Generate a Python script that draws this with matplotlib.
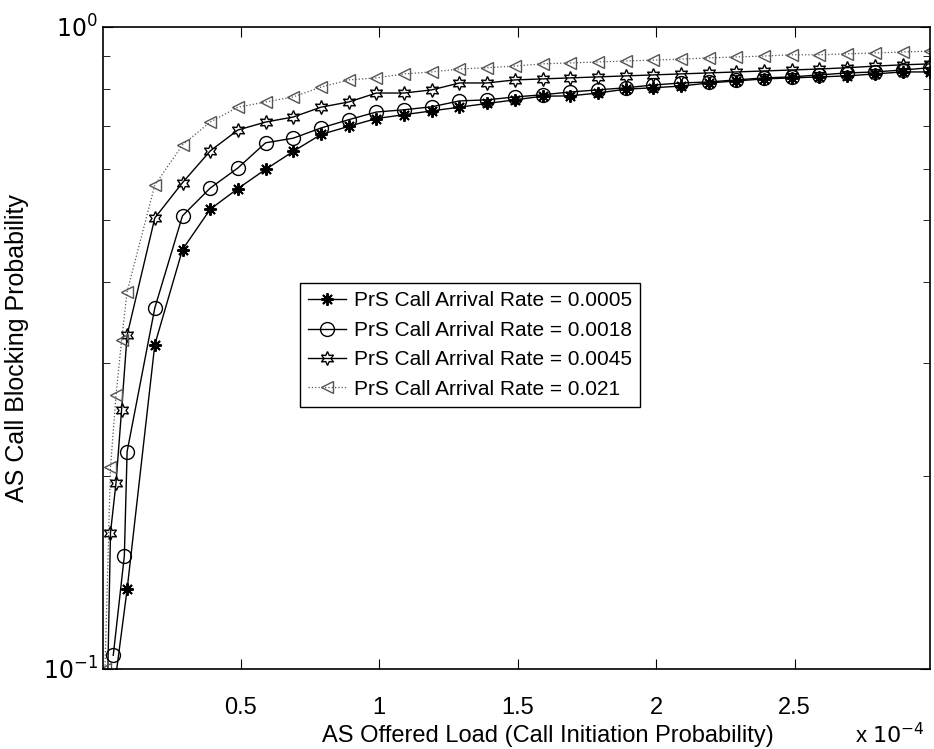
import numpy as np
import matplotlib
matplotlib.use("Agg")
import matplotlib.pyplot as plt
from matplotlib.ticker import FixedLocator, NullFormatter

plt.rcParams['font.family'] = ['Liberation Sans', 'DejaVu Sans']

# common load grid (x 1e-4)
x_main = [0.09, 0.19, 0.29, 0.39, 0.49, 0.59, 0.69, 0.79, 0.89, 0.99,
          1.09, 1.19, 1.29, 1.39, 1.49, 1.59, 1.69, 1.79, 1.89, 1.99,
          2.09, 2.19, 2.29, 2.39, 2.49, 2.59, 2.69, 2.79, 2.89, 2.99]

# low-load heads of each curve (steep part)
x_head_0005 = [0.05]
y_head_0005 = [0.098]
x_head_0018 = [0.04, 0.08]
y_head_0018 = [0.105, 0.150]
x_head_0045 = [0.02, 0.03, 0.05, 0.07]
y_head_0045 = [0.097, 0.163, 0.195, 0.253]
x_head_021 = [0.01, 0.03, 0.05, 0.07]
y_head_021 = [0.10, 0.206, 0.267, 0.325]

y_0005 = [0.133, 0.32, 0.45, 0.52, 0.56, 0.60, 0.64, 0.68, 0.70, 0.72,
          0.73, 0.74, 0.75, 0.76, 0.77, 0.78, 0.781, 0.789, 0.80, 0.804,
          0.809, 0.818, 0.824, 0.830, 0.833, 0.836, 0.839, 0.845, 0.851, 0.851]
y_0018 = [0.218, 0.365, 0.508, 0.561, 0.603, 0.660, 0.671, 0.696, 0.717, 0.737,
          0.743, 0.751, 0.767, 0.770, 0.778, 0.784, 0.792, 0.798, 0.804, 0.812,
          0.818, 0.821, 0.827, 0.833, 0.836, 0.842, 0.848, 0.851, 0.857, 0.864]
y_0045 = [0.331, 0.504, 0.572, 0.641, 0.691, 0.711, 0.724, 0.750, 0.764, 0.789,
          0.789, 0.798, 0.818, 0.818, 0.827, 0.830, 0.833, 0.836, 0.839, 0.842,
          0.845, 0.848, 0.851, 0.854, 0.857, 0.860, 0.864, 0.869, 0.873, 0.876]
y_021 = [0.387, 0.567, 0.655, 0.711, 0.750, 0.764, 0.778, 0.806, 0.827, 0.833,
         0.845, 0.851, 0.860, 0.864, 0.869, 0.876, 0.879, 0.882, 0.885, 0.888,
         0.891, 0.895, 0.898, 0.901, 0.905, 0.905, 0.908, 0.911, 0.914, 0.917]

labels = ["PrS Call Arrival Rate = 0.0005", "PrS Call Arrival Rate = 0.0018",
          "PrS Call Arrival Rate = 0.0045", "PrS Call Arrival Rate = 0.021"]

fig = plt.figure(figsize=(9.34, 7.49), dpi=100)
ax = fig.add_axes([0.110, 0.107, 0.886, 0.857])

scale = 1e-4
def xs(head, main):
    return np.array(head + main) * scale

ax.plot(xs(x_head_0005, x_main), y_head_0005 + y_0005, color="black", lw=1.0,
        marker=(8, 2, 0), ms=9, mew=1.4, mec="black", label=labels[0])
ax.plot(xs(x_head_0018, x_main), y_head_0018 + y_0018, color="black", lw=1.0,
        marker="o", ms=10, mfc="none", mec="black", label=labels[1])
ax.plot(xs(x_head_0045, x_main), y_head_0045 + y_0045, color="black", lw=1.0,
        marker=(6, 1, 0), ms=10, mfc="none", mec="black", label=labels[2])
ax.plot(xs(x_head_021, x_main), y_head_021 + y_021, color="#555555", lw=0.9,
        ls=":", marker="<", ms=9, mfc="none", mec="#555555", label=labels[3])

ax.set_yscale("log")
ax.set_ylim(0.1, 1.0)
ax.set_xlim(0.002e-4, 2.99e-4)

ax.set_xticks([0.5e-4, 1e-4, 1.5e-4, 2e-4, 2.5e-4])
ax.set_xticklabels(["0.5", "1", "1.5", "2", "2.5"])
ax.yaxis.set_major_locator(FixedLocator([0.1, 1.0]))
ax.set_yticklabels(["$10^{-1}$", "$10^{0}$"])
ax.yaxis.set_minor_locator(FixedLocator([0.2, 0.3, 0.4, 0.5, 0.6, 0.7, 0.8, 0.9]))
ax.yaxis.set_minor_formatter(NullFormatter())

ax.tick_params(which="both", direction="in", top=True, right=True, labelsize=17)
ax.tick_params(which="major", length=7)
ax.tick_params(which="minor", length=5)
ax.tick_params(axis="x", pad=20)
for sp in ax.spines.values():
    sp.set_linewidth(1.2)

fig.text(0.587, 0.018, "AS Offered Load (Call Initiation Probability)",
         fontsize=17, ha="center", va="center")
ax.set_ylabel("AS Call Blocking Probability", fontsize=18, labelpad=10)
fig.text(0.99, 0.018, "x $10^{-4}$", fontsize=16, ha="right", va="center")

leg = ax.legend(loc="upper left", bbox_to_anchor=(0.238, 0.601), fontsize=15,
                fancybox=False, framealpha=1, edgecolor="black",
                handlelength=1.8, handletextpad=0.4, borderpad=0.4,
                labelspacing=0.5, borderaxespad=0)
leg.get_frame().set_linewidth(1.0)

fig.savefig("out.png", dpi=100)
